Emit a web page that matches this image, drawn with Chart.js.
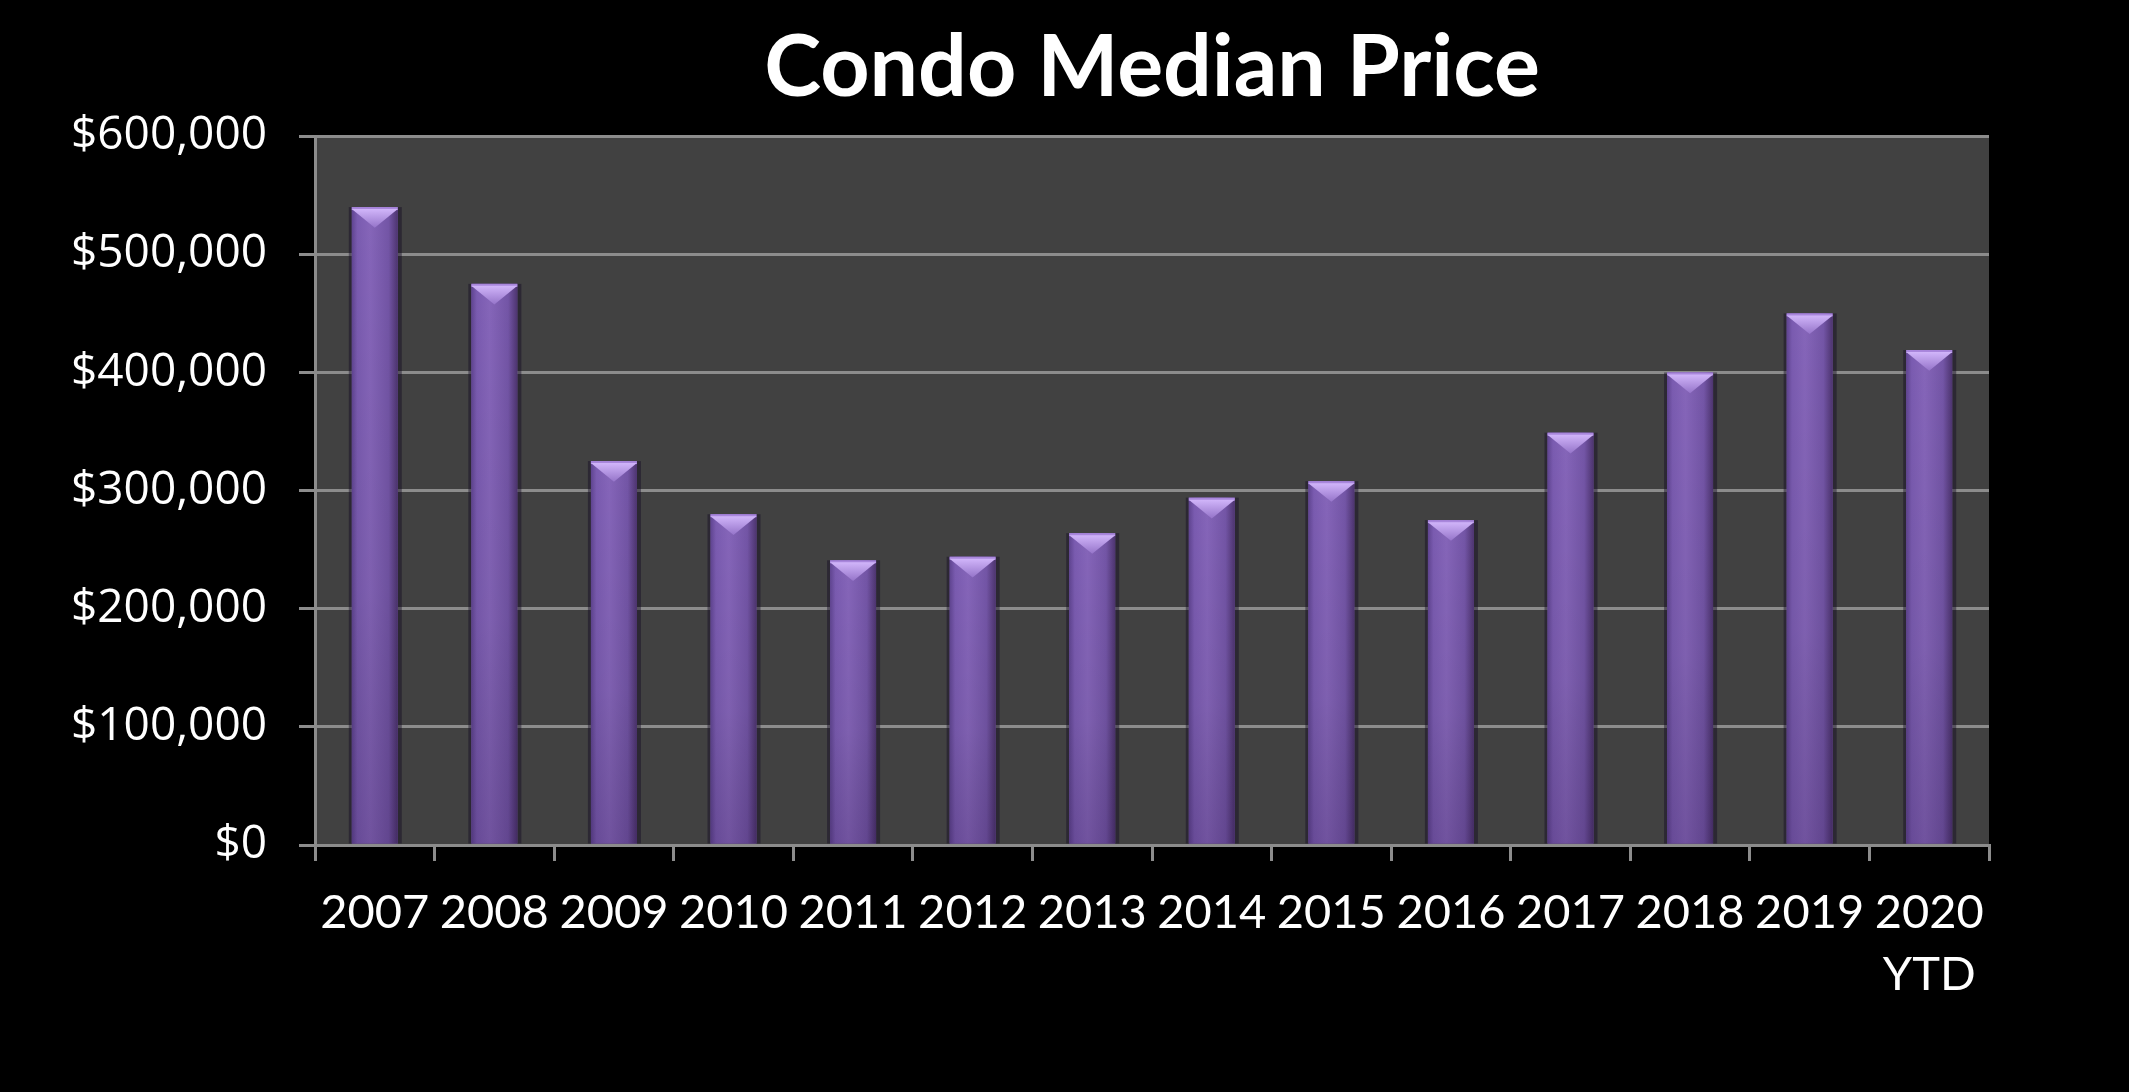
<!DOCTYPE html>
<html>
<head>
<meta charset="utf-8">
<script src="https://cdn.jsdelivr.net/npm/chart.js@4.4.1/dist/chart.umd.min.js"></script>
<style>
html,body{margin:0;padding:0;background:#000;}
#wrap{width:2129px;height:1092px;position:relative;}
</style>
</head>
<body>
<div id="wrap"><canvas id="c" width="2129" height="1092"></canvas></div>
<script>
const categories = ['2007','2008','2009','2010','2011','2012','2013','2014','2015','2016','2017','2018','2019',['2020','YTD']];
const medianPrice = [540000, 475000, 325000, 280000, 241000, 244000, 264000, 294000, 308000, 275000, 349000, 400000, 450000, 419000];
const yTickMax = 600000;
const yTickStep = 100000;
const chartTitle = 'Condo Median Price';

const plotBg = {
  id: 'plotBg',
  beforeDraw(chart) {
    const {ctx, chartArea: a} = chart;
    ctx.save();
    ctx.fillStyle = '#000';
    ctx.fillRect(0, 0, chart.width, chart.height);
    ctx.fillStyle = '#414141';
    ctx.fillRect(a.left, a.top, a.right - a.left, a.bottom - a.top);
    ctx.restore();
  }
};

const barShade = {
  id: 'barShade',
  afterDatasetsDraw(chart) {
    const ctx = chart.ctx;
    const meta = chart.getDatasetMeta(0);
    meta.data.forEach(bar => {
      const {x, y, base, width} = bar.getProps(['x','y','base','width'], true);
      const l = x - width / 2, r = x + width / 2, h = base - y;
      ctx.save();
      ctx.fillStyle = 'rgba(20,10,35,0.45)';
      ctx.fillRect(l - 3, y, 3, h);
      ctx.fillRect(r, y, 4, h);
      let g = ctx.createLinearGradient(l, 0, r, 0);
      g.addColorStop(0, '#5f4490');
      g.addColorStop(0.12, '#7a5bb0');
      g.addColorStop(0.4, '#8565b9');
      g.addColorStop(0.8, '#7355a6');
      g.addColorStop(1, '#4d346f');
      ctx.fillStyle = g;
      ctx.fillRect(l, y, width, h);
      let gv = ctx.createLinearGradient(0, y, 0, base);
      gv.addColorStop(0, 'rgba(0,0,0,0)');
      gv.addColorStop(0.6, 'rgba(0,0,0,0.05)');
      gv.addColorStop(1, 'rgba(20,0,40,0.18)');
      ctx.fillStyle = gv;
      ctx.fillRect(l, y, width, h);
      ctx.fillStyle = '#a987dc';
      ctx.fillRect(l, y, width, 3);
      let gc = ctx.createLinearGradient(0, y, 0, y + width * 0.45);
      gc.addColorStop(0, '#d7bcff');
      gc.addColorStop(1, '#9574c9');
      ctx.fillStyle = gc;
      ctx.beginPath();
      ctx.moveTo(l, y + 2);
      ctx.lineTo(r, y + 2);
      ctx.lineTo(x, y + width * 0.45);
      ctx.closePath();
      ctx.fill();
      ctx.restore();
    });
  }
};

new Chart(document.getElementById('c'), {
  type: 'bar',
  data: {
    labels: categories,
    datasets: [{
      data: medianPrice,
      backgroundColor: '#7a5aab',
      borderWidth: 0,
      barPercentage: 0.385,
      categoryPercentage: 1.0
    }]
  },
  plugins: [plotBg, barShade],
  options: {
    responsive: false,
    animation: false,
    layout: { padding: { left: 0, right: 140, top: 0, bottom: 0 } },
    plugins: {
      legend: { display: false },
      tooltip: { enabled: false },
      title: {
        display: true,
        text: chartTitle,
        fullSize: false,
        color: '#ffffff',
        font: { family: 'Lato', weight: 'bold', size: 86, lineHeight: 1.2 },
        padding: { top: 17, bottom: 16 }
      }
    },
    scales: {
      x: {
        offset: true,
        afterFit(s) { s.height = 247; },
        grid: {
          offset: true,
          drawOnChartArea: false,
          drawTicks: true,
          tickLength: 16,
          color: '#8c8c8c',
          lineWidth: 3
        },
        border: { display: true, color: '#8c8c8c', width: 3 },
        ticks: {
          color: '#ffffff',
          maxRotation: 0,
          autoSkip: false,
          padding: 21,
          font: { family: "Lato", size: 47, lineHeight: 1.32 }
        }
      },
      y: {
        min: 0,
        max: yTickMax,
        afterFit(s) { s.width = 315; },
        grid: {
          color: '#8c8c8c',
          lineWidth: 3,
          tickLength: 16,
          drawTicks: true
        },
        border: { display: true, color: '#8c8c8c', width: 3 },
        ticks: {
          stepSize: yTickStep,
          color: '#ffffff',
          padding: 32,
          font: { family: "'Open Sans'", size: 46 },
          callback: v => '$' + v.toLocaleString('en-US')
        }
      }
    }
  }
});
</script>
</body>
</html>
